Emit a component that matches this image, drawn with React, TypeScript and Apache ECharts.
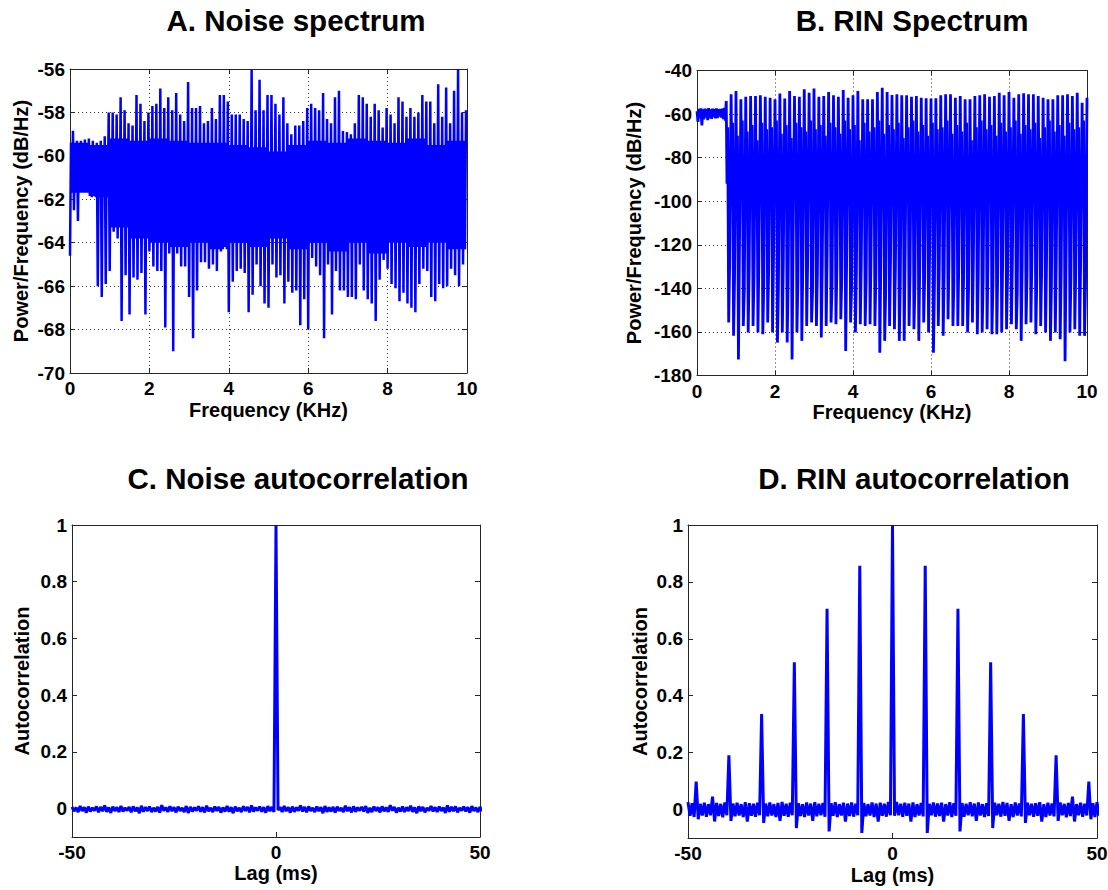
import React, { useEffect, useRef } from 'react';
import * as echarts from 'echarts';

const FONT = '"Liberation Sans", Arial, Helvetica, sans-serif';

// ---------- Panel A: Noise spectrum (dB/Hz), 0.1 kHz bins ----------
const aStep = 0.1;
// local maximum in each bin
const aHigh = [
  -58.85, -59.3, -59.3, -59.25, -59.2, -59.3, -59.4, -59.3, -59.1, -58.0,
  -58.0, -58.1, -57.3, -57.9, -58.5, -58.6, -57.2, -57.6, -58.4, -58.0,
  -57.7, -57.6, -56.9, -57.8, -57.3, -57.9, -57.1, -58.1, -58.4, -56.6,
  -57.8, -57.8, -57.7, -58.5, -58.4, -57.8, -58.3, -57.2, -57.2, -57.5,
  -58.1, -58.1, -58.1, -58.3, -58.4, -56.05, -57.9, -56.5, -57.9, -57.2,
  -57.2, -57.6, -58.1, -57.3, -58.5, -59.0, -58.6, -58.6, -58.4, -57.8,
  -57.6, -57.8, -57.9, -57.1, -58.3, -58.5, -57.3, -57.0, -58.85, -58.9,
  -59.0, -58.5, -57.2, -57.3, -57.6, -58.2, -57.6, -57.9, -58.7, -57.8,
  -58.1, -58.5, -57.3, -57.5, -58.2, -57.8, -58.2, -58.0, -57.2, -57.5,
  -57.5, -58.5, -56.7, -58.2, -56.85, -58.5, -57.0, -56.0, -58.0, -57.9,
];
// local minimum in each bin
const aLow = [
  -64.6, -62.5, -63.0, -61.7, -61.7, -61.85, -61.85, -66.0, -66.5, -65.9,
  -65.3, -63.5, -63.8, -67.6, -65.5, -67.3, -65.6, -65.7, -65.4, -67.3,
  -64.4, -65.1, -65.3, -65.3, -67.9, -64.5, -69.0, -64.5, -65.1, -65.1,
  -66.5, -68.4, -66.2, -64.9, -64.9, -65.2, -65.0, -65.3, -64.4, -64.2,
  -67.2, -65.8, -65.3, -65.2, -65.4, -67.2, -66.4, -65.0, -66.0, -66.8,
  -67.0, -65.0, -65.6, -65.5, -66.8, -65.8, -66.3, -66.2, -67.8, -66.6,
  -68.0, -64.7, -65.1, -65.5, -68.4, -65.0, -67.3, -65.3, -66.2, -66.2,
  -66.5, -66.5, -66.6, -65.0, -66.2, -66.6, -66.8, -67.6, -65.7, -64.8,
  -65.2, -65.9, -66.1, -66.7, -66.3, -66.8, -67.0, -67.2, -65.9, -65.2,
  -65.3, -66.5, -66.7, -65.9, -66.1, -66.0, -65.2, -65.5, -66.0, -65.0,
];
// edges of the dense core band, per 0.5 kHz
const aCoreChunk = 5;
const aCoreTop = [
  -59.4, -59.5, -59.2, -59.3, -59.2, -59.3, -59.4, -59.4, -59.5, -59.6,
  -59.8, -59.5, -59.3, -59.4, -59.2, -59.3, -59.4, -59.2, -59.5, -59.3,
];
const aCoreBottom = [
  -61.7, -61.9, -63.3, -63.8, -64.0, -64.2, -64.0, -64.3, -64.0, -64.2,
  -63.8, -64.3, -64.0, -64.4, -64.0, -64.5, -64.0, -64.2, -64.0, -64.3,
];

// ---------- Panel B: RIN spectrum ----------
const bFloorStep = 0.025;
const bFloor = [
  -58.6, -63.6, -57.6, -61.8, -57.4, -65.2, -57.8, -62.4, -57.5, -61.5,
  -57.6, -62.8, -57.3, -61.9, -57.8, -62.2, -57.5, -61.4, -57.6, -62.0,
  -57.4, -61.8, -57.7, -61.2, -57.6, -61.6, -57.5, -62.3, -57.2, -63.0,
];
const bHarmonic = 0.125; // kHz
const bFirstK = 6;
const bPeak = [
  -54.0, -50.9, -49.4, -53.2, -52.0, -51.7, -51.7, -51.4, -52.0, -52.5,
  -53.2, -50.6, -52.9, -49.4, -51.7, -52.0, -48.6, -50.2, -48.3, -52.0,
  -51.7, -49.9, -51.4, -52.0, -48.9, -52.5, -51.4, -49.4, -53.2, -53.2,
  -53.2, -49.9, -47.9, -49.9, -51.2, -50.9, -51.4, -51.4, -52.0, -51.7,
  -52.5, -52.8, -52.9, -52.8, -51.4, -50.9, -50.9, -52.5, -51.7, -53.2,
  -53.2, -51.7, -51.4, -50.9, -52.0, -51.7, -50.2, -51.4, -49.9, -52.5,
  -50.9, -50.5, -50.9, -50.9, -51.7, -52.5, -53.2, -53.2, -51.4, -51.4,
  -50.9, -51.7, -50.2, -54.8, -52.5,
];
const bDip = [
  -92, -88, -96, -90, -94, -86, -98, -90, -92, -95,
  -88, -93, -97, -90, -86, -94, -92, -99, -88, -91,
  -95, -90, -93, -87, -96, -92, -89, -97, -91, -94,
  -88, -93, -99, -90, -92, -95, -87, -94, -91, -96,
  -89, -93, -98, -90, -92, -88, -95, -91, -97, -89,
  -93, -90, -96, -92, -88, -94, -91, -97, -90, -93,
  -95, -89, -92, -96, -90, -94, -88, -93, -91, -97,
  -89, -92, -95, -90,
];
const bRise = [
  -66, -64, -70, -63, -68, -65, -72, -64, -67, -66,
  -63, -69, -65, -71, -64, -66, -68, -63, -67, -65,
  -70, -64, -66, -69, -63, -67, -65, -72, -64, -68,
  -66, -63, -69, -65, -67, -64, -71, -66, -63, -68,
  -65, -70, -64, -67, -66, -63, -69, -65, -68, -64,
  -72, -66, -63, -67, -65, -70, -64, -68, -66, -63,
  -69, -65, -67, -64, -71, -66, -63, -68, -65, -70,
  -64, -67, -66, -63,
];
const bTrough = [
  -155.7, -161.8, -172.6, -157.3, -160.3, -157.3, -160.3, -161.1, -155.7, -160.3,
  -164.9, -160.3, -164.9, -172.6, -160.3, -164.1, -157.3, -155.7, -157.3, -162.6,
  -157.3, -155.7, -156.5, -154.2, -168.8, -155.7, -160.3, -156.5, -157.3, -156.5,
  -157.3, -169.6, -164.1, -157.3, -158.8, -164.1, -164.1, -157.3, -158.8, -164.1,
  -155.7, -160.3, -169.6, -157.3, -161.8, -154.2, -157.3, -157.3, -157.3, -160.3,
  -155.7, -161.1, -160.3, -158.8, -161.1, -161.1, -160.3, -158.8, -156.5, -158.8,
  -164.1, -156.5, -155.7, -161.1, -157.3, -160.3, -164.1, -160.3, -163.4, -173.4,
  -160.3, -158.8, -161.8, -161.8,
];
const bRebound = [
  -128, -136, -124, -141, -131, -134, -126, -138, -132, -125,
  -140, -129, -135, -123, -137, -131, -127, -142, -133, -128,
  -124, -139, -130, -135, -126, -141, -132, -128, -136, -125,
  -134, -129, -142, -127, -131, -137, -124, -133, -139, -128,
  -135, -126, -140, -130, -132, -125, -138, -129, -134, -141,
  -127, -133, -136, -124, -139, -131, -128, -135, -126, -142,
  -130, -134, -125, -137, -132, -128, -140, -126, -133, -129,
  -136, -131, -127, -138,
];
// position of each excursion inside one harmonic spacing
const bPhase = { dip: 0.15, rise: 0.3, trough: 0.5, rebound: 0.7 };

// ---------- Panel C: Noise autocorrelation, lags -50..50 ms ----------
const lagStart = -50;
const cPeak = [
  0.006, 0.004, 0.009, 0.005, 0.007, 0.003, 0.008, 0.006, 0.011, 0.004,
  0.007, 0.005, 0.009, 0.003, 0.006, 0.008, 0.004, 0.010, 0.005, 0.007,
  0.003, 0.006, 0.012, 0.004, 0.008, 0.005, 0.007, 0.003, 0.009, 0.006,
  0.004, 0.008, 0.005, 0.010, 0.003, 0.007, 0.006, 0.004, 0.009, 0.005,
  0.007, 0.003, 0.008, 0.006, 0.011, 0.004, 0.007, 0.005, 0.009, 0.006,
  1.0,
  0.006, 0.009, 0.005, 0.007, 0.004, 0.011, 0.006, 0.008, 0.003, 0.007,
  0.005, 0.009, 0.004, 0.006, 0.007, 0.003, 0.010, 0.005, 0.008, 0.004,
  0.006, 0.009, 0.003, 0.007, 0.005, 0.008, 0.004, 0.012, 0.006, 0.003,
  0.007, 0.005, 0.010, 0.004, 0.008, 0.006, 0.003, 0.009, 0.005, 0.007,
  0.004, 0.011, 0.006, 0.008, 0.003, 0.007, 0.005, 0.009, 0.004, 0.006,
];
const cTrough = [
  -0.009, -0.012, -0.008, -0.014, -0.010, -0.007, -0.013, -0.009, -0.011, -0.015,
  -0.008, -0.012, -0.010, -0.007, -0.013, -0.009, -0.016, -0.011, -0.008, -0.012,
  -0.010, -0.014, -0.007, -0.011, -0.009, -0.013, -0.008, -0.012, -0.015, -0.010,
  -0.007, -0.011, -0.013, -0.009, -0.012, -0.008, -0.014, -0.010, -0.011, -0.016,
  -0.009, -0.012, -0.008, -0.013, -0.010, -0.007, -0.011, -0.014, -0.009, -0.012,
  -0.006,
  -0.012, -0.009, -0.014, -0.011, -0.007, -0.010, -0.013, -0.008, -0.012, -0.009,
  -0.016, -0.011, -0.010, -0.014, -0.008, -0.012, -0.009, -0.013, -0.011, -0.007,
  -0.010, -0.015, -0.012, -0.008, -0.013, -0.009, -0.011, -0.007, -0.014, -0.010,
  -0.012, -0.008, -0.011, -0.016, -0.009, -0.013, -0.007, -0.010, -0.012, -0.008,
  -0.015, -0.011, -0.009, -0.013, -0.007, -0.010, -0.014, -0.008, -0.012, -0.009,
];

// ---------- Panel D: RIN autocorrelation, lags -50..50 ms ----------
const dPeak = [
  0.026, 0.022, 0.098, 0.020, 0.024, 0.019, 0.045, 0.023, 0.020, 0.025,
  0.191, 0.021, 0.024, 0.019, 0.026, 0.022, 0.020, 0.024, 0.336, 0.021,
  0.025, 0.019, 0.023, 0.027, 0.020, 0.024, 0.518, 0.022, 0.019, 0.025,
  0.021, 0.026, 0.020, 0.023, 0.706, 0.022, 0.026, 0.019, 0.024, 0.021,
  0.025, 0.020, 0.857, 0.023, 0.019, 0.025, 0.021, 0.024, 0.020, 0.027,
  1.0,
  0.027, 0.020, 0.024, 0.021, 0.025, 0.019, 0.023, 0.857, 0.020, 0.025,
  0.021, 0.024, 0.019, 0.026, 0.022, 0.706, 0.023, 0.020, 0.026, 0.021,
  0.025, 0.019, 0.022, 0.518, 0.024, 0.020, 0.027, 0.023, 0.019, 0.025,
  0.021, 0.336, 0.024, 0.020, 0.022, 0.026, 0.019, 0.024, 0.021, 0.191,
  0.025, 0.020, 0.023, 0.045, 0.019, 0.024, 0.020, 0.098, 0.022, 0.026,
];
const dTrough = [
  -0.022, -0.026, -0.034, -0.021, -0.025, -0.020, -0.042, -0.023, -0.027, -0.020,
  -0.040, -0.024, -0.021, -0.026, -0.042, -0.022, -0.025, -0.020, -0.047, -0.024,
  -0.021, -0.026, -0.040, -0.022, -0.025, -0.020, -0.065, -0.023, -0.026, -0.021,
  -0.040, -0.024, -0.020, -0.025, -0.077, -0.022, -0.026, -0.021, -0.042, -0.023,
  -0.025, -0.020, -0.082, -0.024, -0.021, -0.026, -0.042, -0.022, -0.025, -0.020,
  -0.022,
  -0.020, -0.025, -0.022, -0.042, -0.026, -0.021, -0.024, -0.082, -0.020, -0.025,
  -0.023, -0.042, -0.021, -0.026, -0.022, -0.077, -0.025, -0.020, -0.024, -0.040,
  -0.021, -0.026, -0.023, -0.065, -0.020, -0.025, -0.022, -0.040, -0.026, -0.021,
  -0.024, -0.047, -0.020, -0.025, -0.022, -0.042, -0.026, -0.021, -0.024, -0.040,
  -0.020, -0.027, -0.023, -0.042, -0.020, -0.025, -0.021, -0.034, -0.026, -0.022,
];

// ---------- titles / tick values ----------
const titles = ['A. Noise spectrum', 'B. RIN Spectrum', 'C. Noise autocorrelation', 'D. RIN autocorrelation'];
const acfTicks = [0, 0.2, 0.4, 0.6, 0.8, 1];

// ---------- build series data ----------
function buildA(): number[][] {
  const out: number[][] = [];
  for (let i = 0; i < aHigh.length; i++) {
    const c = Math.floor(i / aCoreChunk);
    const x0 = i * aStep;
    out.push([x0, aLow[i]]);
    out.push([x0 + aStep * 0.25, aCoreTop[c]]);
    out.push([x0 + aStep * 0.5, aCoreBottom[c]]);
    out.push([x0 + aStep * 0.75, aHigh[i]]);
  }
  return out;
}
function buildB(): number[][] {
  const out: number[][] = [];
  bFloor.forEach((v, j) => out.push([j * bFloorStep, v]));
  for (let m = 0; m < bPeak.length; m++) {
    const f = (bFirstK + m) * bHarmonic;
    out.push([f, bPeak[m]]);
    if (m < bTrough.length) {
      out.push([f + bHarmonic * bPhase.dip, bDip[m]]);
      out.push([f + bHarmonic * bPhase.rise, bRise[m]]);
      out.push([f + bHarmonic * bPhase.trough, bTrough[m]]);
      out.push([f + bHarmonic * bPhase.rebound, bRebound[m]]);
    }
  }
  return out;
}
function buildAcf(peak: number[], trough: number[]): number[][] {
  const out: number[][] = [];
  for (let j = 0; j < peak.length; j++) {
    const lag = lagStart + j;
    out.push([lag, peak[j]]);
    out.push([lag + 0.5, trough[j]]);
  }
  return out;
}

const AX = '#262626';
const tickFont = { fontFamily: FONT, fontWeight: 'bold' as const, fontSize: 19, color: '#000' };
const nameFont = { fontFamily: FONT, fontWeight: 'bold' as const, fontSize: 20, color: '#000' };
const titleFont = { fontFamily: FONT, fontWeight: 'bold' as const, fontSize: 29.5, color: '#000' };
const gridLine = { show: true, lineStyle: { color: '#333', width: 1, type: [1, 3] } };

function xPair(g: number, min: number, max: number, interval: number, name: string, nameGap: number, grid: boolean) {
  const base: any = {
    type: 'value', gridIndex: g, min, max, interval,
    axisLine: { show: true, onZero: false, lineStyle: { color: AX, width: 1 } },
    axisTick: { show: true, inside: true, length: 5, lineStyle: { color: AX, width: 1 } },
  };
  return [
    { ...base, position: 'bottom', name, nameLocation: 'middle', nameGap, nameTextStyle: nameFont,
      axisLabel: { ...tickFont, margin: 6 }, splitLine: grid ? gridLine : { show: false } },
    { ...base, position: 'top', axisLabel: { show: false }, splitLine: { show: false } },
  ];
}
function yPair(g: number, min: number, max: number, interval: number | null, custom: number[] | null,
  name: string, nameGap: number, grid: boolean) {
  const extra: any = custom ? { customValues: custom } : {};
  const base: any = {
    type: 'value', gridIndex: g, min, max,
    axisLine: { show: true, onZero: false, lineStyle: { color: AX, width: 1 } },
    axisTick: { show: true, inside: true, length: 5, lineStyle: { color: AX, width: 1 }, ...extra },
  };
  if (interval) base.interval = interval;
  return [
    { ...base, position: 'left', name, nameLocation: 'middle', nameGap, nameTextStyle: nameFont,
      axisLabel: { ...tickFont, margin: 5, ...extra }, splitLine: grid ? gridLine : { show: false } },
    { ...base, position: 'right', axisLabel: { show: false }, splitLine: { show: false } },
  ];
}
const line = (xi: number, yi: number, data: number[][], width: number) => ({
  type: 'line', xAxisIndex: xi, yAxisIndex: yi, data, symbol: 'none', showSymbol: false,
  silent: true, clip: true, z: 3, emphasis: { disabled: true },
  lineStyle: { color: '#0000ff', width },
});

export default function App() {
  const ref = useRef<HTMLDivElement>(null);
  useEffect(() => {
    if (!ref.current) return;
    const chart = echarts.init(ref.current, null, { renderer: 'svg' });
    const option: any = {
      animation: false,
      backgroundColor: '#ffffff',
      title: [
        { text: titles[0], left: 296, top: 5, textAlign: 'center', padding: 0, textStyle: titleFont },
        { text: titles[1], left: 912, top: 5, textAlign: 'center', padding: 0, textStyle: titleFont },
        { text: titles[2], left: 298, top: 463, textAlign: 'center', padding: 0, textStyle: titleFont },
        { text: titles[3], left: 914, top: 463, textAlign: 'center', padding: 0, textStyle: titleFont },
      ],
      grid: [
        { left: 70, top: 69, width: 397, height: 304, outerBoundsMode: 'none' },
        { left: 697, top: 70.5, width: 390, height: 305, outerBoundsMode: 'none' },
        { left: 72, top: 525, width: 408, height: 312, outerBoundsMode: 'none' },
        { left: 688, top: 525, width: 409, height: 313, outerBoundsMode: 'none' },
      ],
      xAxis: [
        ...xPair(0, 0, 10, 2, 'Frequency (KHz)', 27, true),
        ...xPair(1, 0, 10, 2, 'Frequency (KHz)', 26, true),
        ...xPair(2, -50, 50, 50, 'Lag (ms)', 25.5, false),
        ...xPair(3, -50, 50, 50, 'Lag (ms)', 26.5, false),
      ],
      yAxis: [
        ...yPair(0, -70, -56, 2, null, 'Power/Frequency (dB/Hz)', 39, true),
        ...yPair(1, -180, -40, 20, null, 'Power/Frequency (dB/Hz)', 53, true),
        ...yPair(2, -0.1, 1, null, acfTicks, 'Autocorrelation', 40, false),
        ...yPair(3, -0.1, 1, null, acfTicks, 'Autocorrelation', 38.5, false),
      ],
      series: [
        line(0, 0, buildA(), 2.5),
        line(2, 2, buildB(), 2.8),
        line(4, 4, buildAcf(cPeak, cTrough), 3),
        line(6, 6, buildAcf(dPeak, dTrough), 3),
      ],
    };
    chart.setOption(option);
    return () => chart.dispose();
  }, []);
  return (
    <div
      ref={ref}
      style={{ position: 'absolute', left: 0, top: 0, width: 1108, height: 890, background: '#fff' }}
    />
  );
}
